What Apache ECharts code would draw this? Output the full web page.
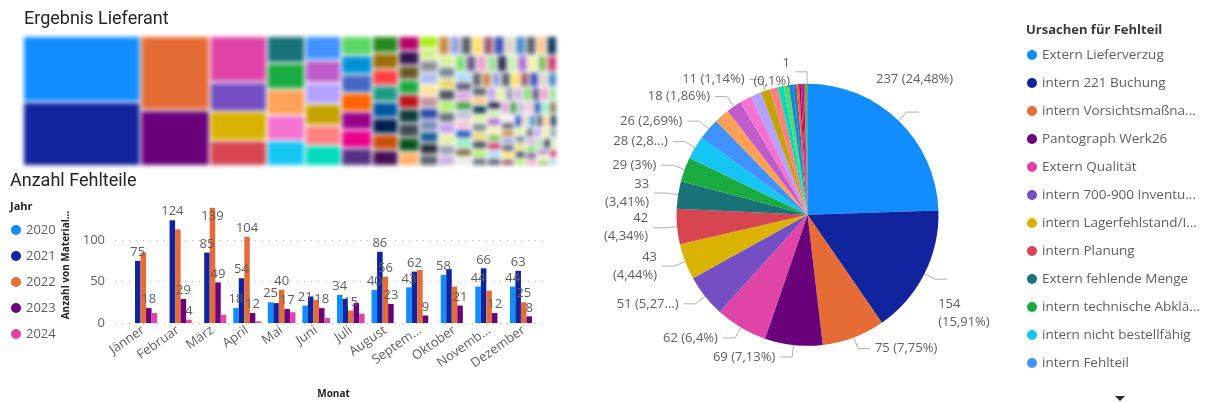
<!DOCTYPE html>
<html>
<head>
<meta charset="utf-8">
<script src="https://cdn.jsdelivr.net/npm/echarts@6.0.0/dist/echarts.min.js"></script>
<style>
  html, body { margin: 0; padding: 0; background: #ffffff; }
  #board { position: relative; width: 1209px; height: 403px; overflow: hidden; }
  #main { position: absolute; left: 0; top: 0; width: 1209px; height: 403px; }
  #tree { position: absolute; left: 20px; top: 33px; width: 540px; height: 136px; filter: blur(2px); }
</style>
</head>
<body>
<div id="board">
  <div id="main"></div>
  <div id="tree"></div>
</div>
<script>
// ---------- Anzahl Fehlteile: counts per month and year ----------
const months = ['Jänner', 'Februar', 'März', 'April', 'Mai', 'Juni', 'Juli', 'August', 'September', 'Oktober', 'November', 'Dezember'];
const monthTickLabels = ['Jänner', 'Februar', 'März', 'April', 'Mai', 'Juni', 'Juli', 'August', 'Septem...', 'Oktober', 'Novemb...', 'Dezember'];
const years = ['2020', '2021', '2022', '2023', '2024'];
const count2020 = [null, null, null, 18, 25, 21, 34, 40, 43, 58, 44, 44];
const count2021 = [75, 124, 85, 54, 24, 32, 29, 86, 62, 65, 66, 63];
const count2022 = [85, 113, 139, 104, 40, 28, 15, 56, 64, 44, 39, 25];
const count2023 = [18, 29, 49, 12, 17, 18, 24, 23, 9, 21, 12, 8];
const count2024 = [12, 4, 10, 2, 13, 6, 11, null, null, null, null, null];
// which bars carry a data label (others are hidden to avoid collisions)
const labelled2020 = [0, 0, 0, 1, 1, 1, 1, 1, 1, 1, 1, 1];
const labelled2021 = [1, 1, 1, 1, 0, 0, 0, 1, 1, 0, 1, 1];
const labelled2022 = [0, 0, 1, 1, 1, 0, 1, 1, 0, 0, 0, 1];
const labelled2023 = [1, 1, 1, 1, 1, 1, 0, 1, 1, 1, 1, 1];
const labelled2024 = [0, 1, 0, 0, 0, 0, 0, 0, 0, 0, 0, 0];
const yTicks = [0, 50, 100];

// ---------- Ursachen für Fehlteil ----------
const causes = [
  'Extern Lieferverzug', 'intern 221 Buchung', 'intern Vorsichtsmaßna...', 'Pantograph Werk26',
  'Extern Qualität', 'intern 700-900 Inventu...', 'intern Lagerfehlstand/I...', 'intern Planung',
  'Extern fehlende Menge', 'intern technische Abklä...', 'intern nicht bestellfähig', 'intern Fehlteil',
  'Ursache 13', 'Ursache 14', 'Ursache 15', 'Ursache 16', 'Ursache 17', 'Ursache 18', 'Ursache 19',
  'Ursache 20', 'Ursache 21', 'Ursache 22', 'Ursache 23', 'Ursache 24', 'Ursache 25', 'Ursache 26',
  'Ursache 27', 'Ursache 28', 'Ursache 29', 'Ursache 30'
];
const causeCounts = [237, 154, 75, 69, 62, 51, 43, 42, 33, 29, 28, 26, 18, 18, 14, 13, 11, 10, 7, 6, 5, 4, 3, 2, 2, 2, 1, 1, 1, 1];
const causeLegendCount = 12;
const labelledCauses = [0, 1, 2, 3, 4, 5, 6, 7, 8, 9, 10, 11, 13, 16, 29];
const wrappedCauses = [1, 6, 7, 8, 29];
const clippedPercent = { 5: 4, 10: 3 };   // slice index -> characters of the percentage kept

// ---------- Ergebnis Lieferant ----------
const supplierVolumes = [
  7605, 7371,
  5037, 3795,
  2600, 1640, 1620, 1436,
  1010, 985, 970, 955, 944,
  860, 800, 760, 740, 730, 718,
  590, 580, 570, 565, 560, 555, 548,
  430, 422, 418, 416, 414, 412, 410, 406,
  305, 302, 300, 299, 298, 297, 296, 296, 295,
  226, 224, 222, 221, 219, 218, 217, 216, 215, 214,
  213, 211, 209, 207, 205, 204, 202, 200, 198, 196,
  195, 193, 191, 190, 188, 186, 185, 183, 181, 180,
  178, 177, 175, 174, 172, 171, 169, 168, 166, 165,
  163, 162, 160, 159, 158, 156, 155, 153, 152, 151,
  149, 148, 147, 145, 144, 143, 141, 140, 139, 138,
  136, 135, 134, 133, 131, 130, 129, 128, 127, 125,
  124, 123, 122, 121, 120, 118, 117, 116, 115, 114,
  113, 112, 111, 110, 109, 108, 107, 106, 105, 104,
  103, 102, 101, 100, 99, 98, 97, 96, 95, 94,
  93, 92, 91, 90, 89, 88, 87, 86, 85, 84,
  83, 82, 81, 80, 79, 78, 77, 76, 75, 74,
  73, 72, 70, 69, 68, 66, 59
];

// ---------- styling ----------
const FONT = '"Segoe UI", "Open Sans", "Noto Sans", sans-serif';
const TITLE_FONT = 'Roboto, "Open Sans", sans-serif';
const INK = '#252423';
const SOFT = '#605E5C';
const PALETTE = ['#118DFF', '#12239E', '#E66C37', '#6B007B', '#E044A7', '#744EC2', '#D9B300', '#D64550',
  '#197278', '#1AAB40', '#15C6F4', '#4092FF', '#FFA058', '#BE5DC9', '#F472D0', '#B5A1FF', '#C4A200',
  '#FF8080', '#00DBBC', '#5BD667', '#0091D5', '#4668C5', '#FF6300', '#99008A', '#EC008C', '#533285',
  '#99700A', '#FF4141', '#1F9A85', '#25891C'];
const TREE_COLORS = [
  '#118DFF', '#12239E',
  '#E66C37', '#6B007B',
  '#E044A7', '#744EC2', '#D9B300', '#D64550',
  '#197278', '#1AAB40', '#FFA058', '#F472D0', '#15C6F4',
  '#4092FF', '#BE5DC9', '#B5A1FF', '#C4A200', '#FF8080', '#00DBBC',
  '#5BD667', '#0091D5', '#4668C5', '#FF6300', '#99008A', '#EC008C', '#533285',
  '#25891C', '#99700A', '#FF4141', '#1F9A85', '#0057A2', '#002050', '#C94F0F', '#450F54',
  '#B60064', '#34124F', '#6A5A29', '#1AAB40', '#BA141A', '#0C3D37', '#0B511F', '#3F4A52', '#FFB266',
  '#A8EE14', '#D2F08E', '#8A9098', '#ABBDF0', '#FFE398', '#C4949F', '#2B49A8', '#7C8BB8', '#1C5E96', '#2A3038'
];
const TREE_EXTRA = ['#5E6670', '#C8894A', '#97A3E0', '#5A6068', '#FFE066', '#A06070', '#3A50B8', '#E0D4C4',
  '#4A8FC8', '#5B6168', '#FFC68A', '#0F3A5A', '#D8F59A', '#7A8A9A', '#E8D870', '#4A5060', '#B0F070',
  '#6E7480', '#C4A0F0', '#E4F0A0', '#9AA0B0', '#D0B0E0', '#80E070', '#6B5A8A', '#F0A0C8', '#A0E0A0',
  '#2F2F4F', '#C8F0B0', '#B070D0', '#F0F0B0', '#88C060', '#D04070', '#A8D8F8', '#606080', '#E0A0E0',
  '#50A050', '#C0C0D8', '#F8C0D0', '#3060C0', '#90F0C0', '#8A7A50', '#EDEDED'];

// ---------- bar chart ----------
const yMax = 140;
function barSeries(name, values, flags, color) {
  return {
    type: 'bar',
    name: name,
    xAxisIndex: 0,
    yAxisIndex: 0,
    barGap: '0%',
    barCategoryGap: '20%',
    itemStyle: { color: color },
    label: { color: SOFT, fontSize: 13, fontFamily: FONT, distance: 2 },
    data: values.map((v, i) => ({
      value: v,
      label: {
        show: v != null && !!flags[i],
        position: (v != null && v + 16 > yMax) ? 'insideTop' : 'top'
      }
    }))
  };
}

// ---------- pie labels ----------
const causeTotal = causeCounts.reduce((a, b) => a + b, 0);
function percentText(v) {
  const s = (v / causeTotal * 100).toFixed(2).replace(/\.?0+$/, '');
  return s.replace('.', ',') + '%';
}
function pieLabel(p) {
  const i = p.dataIndex;
  let pct = percentText(p.value);
  if (clippedPercent[i] !== undefined) pct = pct.slice(0, clippedPercent[i]) + '...';
  const sep = wrappedCauses.indexOf(i) >= 0 ? '\n' : ' ';
  return p.value + sep + '(' + pct + ')';
}
// the two large slices keep their labels clear of the legend column
const pieLabelShift = { 0: [-48, -33], 1: [-14, 34] };

const main = echarts.init(document.getElementById('main'), null, { renderer: 'canvas' });
main.setOption({
  animation: false,
  textStyle: { fontFamily: FONT },
  title: [
    { text: 'Ergebnis Lieferant', left: 24, top: 10, padding: 0,
      textStyle: { fontFamily: TITLE_FONT, fontSize: 18, fontWeight: 'normal', color: INK } },
    { text: 'Anzahl Fehlteile', left: 10, top: 172, padding: 0,
      textStyle: { fontFamily: TITLE_FONT, fontSize: 18, fontWeight: 'normal', color: INK } },
    { text: 'Jahr', left: 10, top: 201, padding: 0,
      textStyle: { fontFamily: FONT, fontSize: 11, fontWeight: 'bold', color: INK } },
    { text: 'Ursachen für Fehlteil', left: 1026, top: 24, padding: 0,
      textStyle: { fontFamily: FONT, fontSize: 13, fontWeight: 'bold', color: '#3B3A39' } }
  ],
  legend: [
    {
      data: years, orient: 'vertical', left: 11, top: 223, padding: 0,
      icon: 'circle', itemWidth: 10, itemHeight: 10, itemGap: 12, selectedMode: false,
      textStyle: { fontFamily: FONT, fontSize: 13, color: SOFT, lineHeight: 14 }
    },
    {
      data: causes.slice(0, causeLegendCount), orient: 'vertical', left: 1027, top: 47, padding: 0,
      icon: 'circle', itemWidth: 10, itemHeight: 10, itemGap: 12, selectedMode: false,
      textStyle: { fontFamily: FONT, fontSize: 13.5, color: SOFT, lineHeight: 16 }
    }
  ],
  grid: [
    { left: 126, top: 207, width: 415, height: 116, outerBoundsMode: 'none' },
    { left: 115, top: 207, width: 433, height: 116, outerBoundsMode: 'none' }
  ],
  xAxis: [
    {
      type: 'category', gridIndex: 0, data: months,
      axisLine: { show: false }, axisTick: { show: false },
      axisLabel: {
        interval: 0, rotate: 35, margin: 6, color: SOFT, fontSize: 13, fontFamily: FONT,
        formatter: (v, i) => monthTickLabels[i]
      },
      name: 'Monat', nameLocation: 'middle', nameGap: 66,
      nameTextStyle: { fontSize: 10, fontWeight: 'bold', color: INK, fontFamily: FONT }
    },
    { type: 'value', gridIndex: 1, show: false, min: 0, max: 1 }
  ],
  yAxis: [
    {
      type: 'value', gridIndex: 0, min: 0, max: yMax, interval: 50, show: false
    },
    {
      type: 'value', gridIndex: 1, min: 0, max: yMax, interval: 50,
      axisLine: { show: false }, axisTick: { show: false },
      axisLabel: {
        margin: 10, color: SOFT, fontSize: 13, fontFamily: FONT, showMaxLabel: false,
        formatter: v => (yTicks.indexOf(v) >= 0 ? String(v) : '')
      },
      splitLine: { show: true, showMaxLine: false, lineStyle: { type: [1, 6], color: '#B8B6B4', width: 1 } },
      name: 'Anzahl von Material...', nameLocation: 'middle', nameGap: 44, nameRotate: 90,
      nameTextStyle: { fontSize: 10, fontWeight: 'bold', color: INK, fontFamily: FONT }
    }
  ],
  graphic: [
    { type: 'polygon', shape: { points: [[1115, 396], [1125, 396], [1120, 401]] },
      style: { fill: '#252423' } }
  ],
  series: [
    barSeries('2020', count2020, labelled2020, PALETTE[0]),
    barSeries('2021', count2021, labelled2021, PALETTE[1]),
    barSeries('2022', count2022, labelled2022, PALETTE[2]),
    barSeries('2023', count2023, labelled2023, PALETTE[3]),
    barSeries('2024', count2024, labelled2024, PALETTE[4]),
    {
      type: 'pie',
      center: [807.5, 214.8],
      radius: 131,
      startAngle: 90,
      clockwise: true,
      avoidLabelOverlap: false,
      emphasis: { disabled: true },
      label: { formatter: pieLabel, color: SOFT, fontSize: 13, fontFamily: FONT, lineHeight: 18 },
      labelLine: { length: 12, length2: 12, lineStyle: { color: '#B3B0AD', width: 1 } },
      labelLayout: function (params) {
        const s = pieLabelShift[params.dataIndex];
        return s ? { dx: s[0], dy: s[1] } : {};
      },
      data: causes.map((n, i) => {
        const shown = labelledCauses.indexOf(i) >= 0;
        return {
          name: n,
          value: causeCounts[i],
          itemStyle: { color: PALETTE[i % PALETTE.length] },
          label: { show: shown },
          labelLine: { show: shown }
        };
      })
    }
  ]
});

// ---------- treemap ----------
const tree = echarts.init(document.getElementById('tree'), null, { renderer: 'canvas' });
tree.setOption({
  animation: false,
  series: [{
    type: 'treemap',
    left: 4, top: 4, width: 532, height: 128,
    roam: false,
    nodeClick: false,
    breadcrumb: { show: false },
    label: { show: false },
    upperLabel: { show: false },
    levels: [{ itemStyle: { gapWidth: 2, borderWidth: 0 } }],
    data: supplierVolumes.map((v, i) => ({
      name: 'Lieferant ' + (i + 1),
      value: v,
      itemStyle: {
        color: i < TREE_COLORS.length ? TREE_COLORS[i] : TREE_EXTRA[(i - TREE_COLORS.length) % TREE_EXTRA.length],
        borderWidth: 0
      }
    }))
  }]
});
</script>
</body>
</html>
